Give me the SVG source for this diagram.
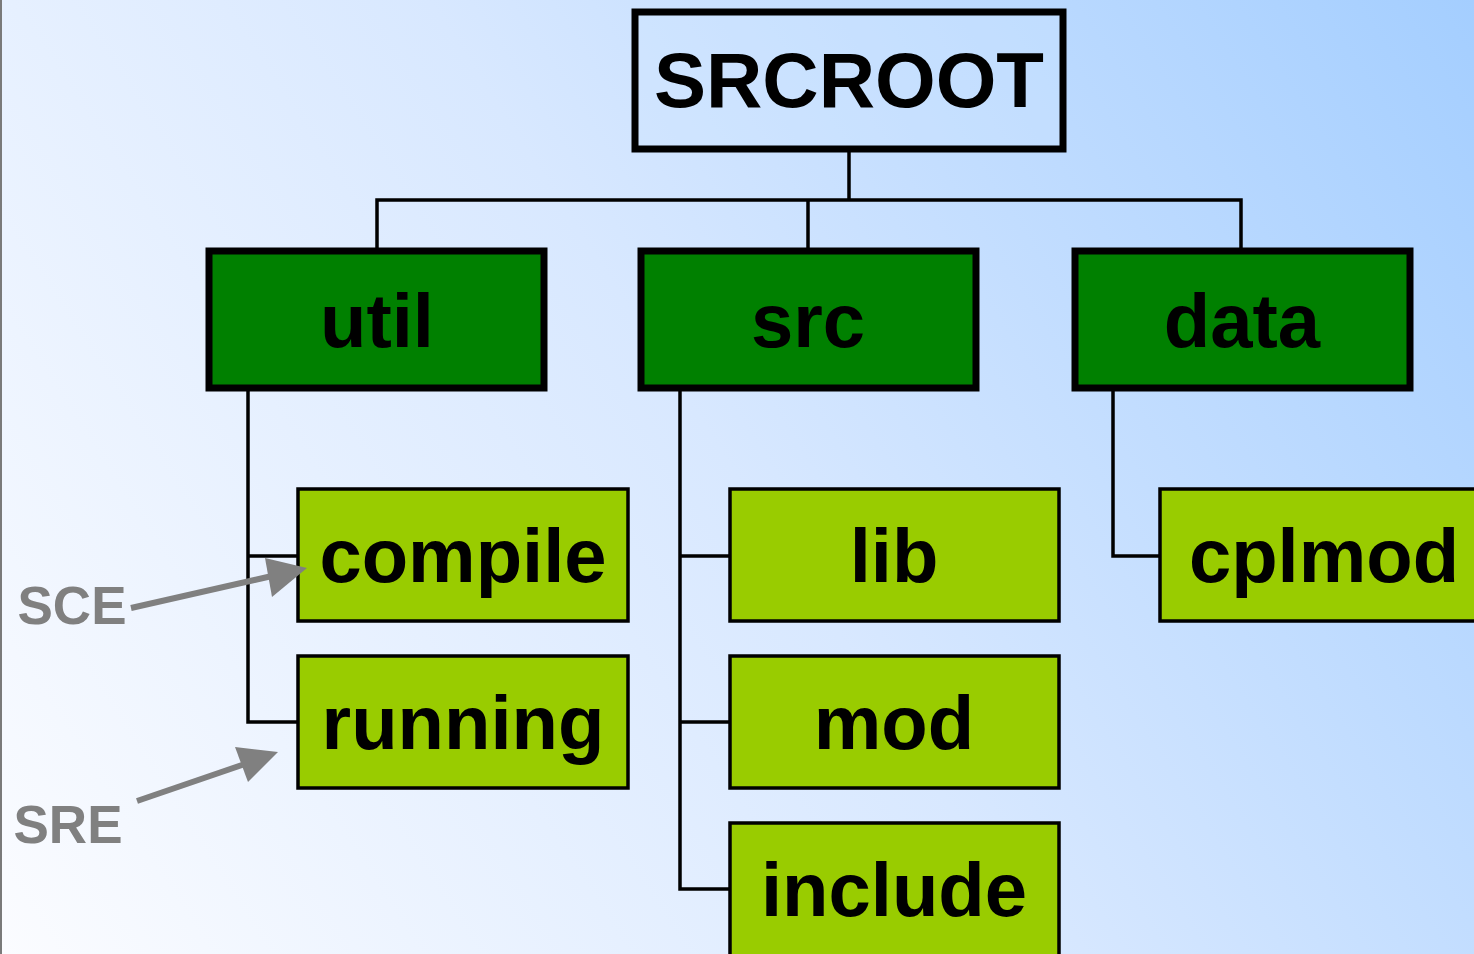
<svg xmlns="http://www.w3.org/2000/svg" width="1474" height="954" viewBox="0 0 1474 954">
  <style>
    text { font-family: "Liberation Sans", Arial, sans-serif; font-weight: bold; text-anchor: middle; }
    .root { fill: #cfe4ff; fill-opacity: 0.35; stroke: #000; stroke-width: 7; }
    .dir { fill: #008000; stroke: #000; stroke-width: 7; }
    .sub { fill: #99cc00; stroke: #000; stroke-width: 3.5; }
    .lbl { font-size: 76px; fill: #000; }
    .side { font-size: 53px; fill: #808080; }
    .wire { fill: none; stroke: #000; stroke-width: 3.5; }
    .ptr { stroke: #808080; stroke-width: 6; fill: none; }
    .head { fill: #808080; }
  </style>
  <defs>
    <linearGradient id="bg" gradientUnits="userSpaceOnUse" x1="0" y1="954" x2="1474" y2="0">
      <stop offset="0" stop-color="#fbfcff"/>
      <stop offset="0.5" stop-color="#d8e8ff"/>
      <stop offset="1" stop-color="#a4ceff"/>
    </linearGradient>
  </defs>

  <rect x="0" y="0" width="1474" height="954" fill="url(#bg)"/>
  <line x1="1" y1="0" x2="1" y2="954" stroke="#7a7a7a" stroke-width="2"/>

  <!-- tree connectors -->
  <g id="connectors">
    <path class="wire" d="M849 149 V200 M377 250 V200 H1241 V250 M808 200 V250"/>
    <path class="wire" d="M248 388 V722 H298 M248 556 H298"/>
    <path class="wire" d="M680 388 V889 H730 M680 556 H730 M680 722 H730"/>
    <path class="wire" d="M1113 388 V556 H1160"/>
  </g>

  <g id="srcroot">
    <rect class="root" x="635" y="12" width="428" height="137"/>
    <text x="849" y="107" style="font-size:78px">SRCROOT</text>
  </g>

  <g id="util">
    <rect class="dir" x="209" y="251" width="335" height="137"/>
    <text class="lbl" x="377" y="347">util</text>
  </g>
  <g id="src">
    <rect class="dir" x="641" y="251" width="335" height="137"/>
    <text class="lbl" x="808" y="347">src</text>
  </g>
  <g id="data">
    <rect class="dir" x="1075" y="251" width="335" height="137"/>
    <text class="lbl" x="1242" y="347">data</text>
  </g>

  <g id="compile">
    <rect class="sub" x="298" y="489" width="330" height="132"/>
    <text class="lbl" x="463" y="582">compile</text>
  </g>
  <g id="running">
    <rect class="sub" x="298" y="656" width="330" height="132"/>
    <text class="lbl" x="463" y="749">running</text>
  </g>
  <g id="lib">
    <rect class="sub" x="730" y="489" width="329" height="132"/>
    <text class="lbl" x="894" y="582">lib</text>
  </g>
  <g id="mod">
    <rect class="sub" x="730" y="656" width="329" height="132"/>
    <text class="lbl" x="894" y="749">mod</text>
  </g>
  <g id="include">
    <rect class="sub" x="730" y="823" width="329" height="140"/>
    <text class="lbl" x="894" y="916">include</text>
  </g>
  <g id="cplmod">
    <rect class="sub" x="1160" y="489" width="330" height="132"/>
    <text class="lbl" x="1324" y="582">cplmod</text>
  </g>

  <!-- environment pointers -->
  <g id="sce">
    <text class="side" x="72" y="624">SCE</text>
    <line class="ptr" x1="131" y1="608" x2="272" y2="576"/>
    <polygon class="head" points="307,568 265,558 272,597"/>
  </g>
  <g id="sre">
    <text class="side" x="68" y="843">SRE</text>
    <line class="ptr" x1="137" y1="801" x2="245" y2="764"/>
    <polygon class="head" points="278,752 235,747 248,782"/>
  </g>
</svg>
